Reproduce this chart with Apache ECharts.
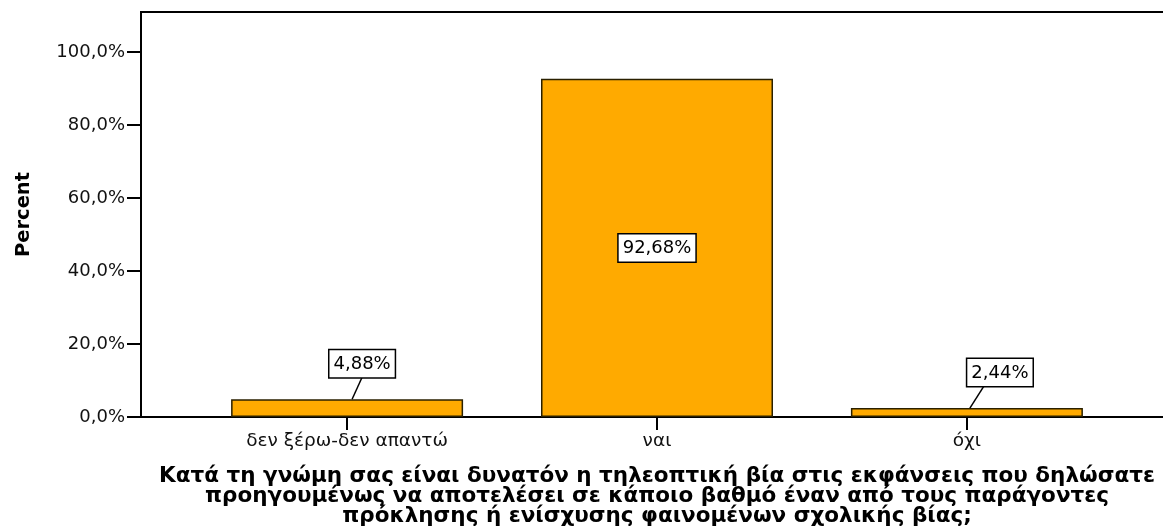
<!DOCTYPE html>
<html>
<head>
<meta charset="utf-8">
<script src="https://cdn.jsdelivr.net/npm/echarts@6/dist/echarts.min.js"></script>
<style>
  html, body { margin: 0; padding: 0; background: #fff; }
  #chart { width: 1163px; height: 528px; }
</style>
</head>
<body>
<div id="chart"></div>
<script>
// Answer categories and their shares (percent of respondents)
const categories = ['δεν ξέρω-δεν απαντώ', 'ναι', 'όχι'];
const percents = [4.88, 92.68, 2.44];
const yTicks = [0, 20, 40, 60, 80, 100];
const xTitle = 'Κατά τη γνώμη σας είναι δυνατόν η τηλεοπτική βία στις εκφάνσεις που δηλώσατε\n' +
  'προηγουμένως να αποτελέσει σε κάποιο βαθμό έναν από τους παράγοντες\n' +
  'πρόκλησης ή ενίσχυσης φαινομένων σχολικής βίας;';
const yTitle = 'Percent';

const fmtPct = v => v.toFixed(1).replace('.', ',') + '%';
const fmtLabel = v => v.toFixed(2).replace('.', ',') + '%';

// Callout geometry for the short bars, in pixels relative to the bar top:
// [leader start dx, leader end dx, leader end dy, box centre dx]
const callout = [[5, 15, -22, 15], null, [3, 17, -22, 33]];

const FONT = 'DejaVu Sans';

const chart = echarts.init(document.getElementById('chart'), null, { renderer: 'canvas' });

chart.setOption({
  animation: false,
  backgroundColor: '#fff',
  grid: {
    left: 141, right: -10, top: 12, bottom: 111,
    outerBoundsMode: 'none',
    containLabel: false,
    show: true, borderColor: '#000', borderWidth: 2, backgroundColor: '#fff'
  },
  xAxis: {
    type: 'value',
    min: -0.665, max: 2.665,
    name: xTitle,
    nameLocation: 'middle',
    nameGap: 49,
    nameTextStyle: {
      fontFamily: FONT, fontWeight: 'bold', fontSize: 21.5,
      lineHeight: 20, color: '#000', align: 'center'
    },
    axisLine: { show: false, onZero: false },
    splitLine: { show: false },
    axisTick: {
      show: true, customValues: [0, 1, 2], length: 13, inside: false,
      lineStyle: { color: '#000', width: 2 }
    },
    axisLabel: {
      customValues: [0, 1, 2],
      formatter: v => categories[Math.round(v)],
      fontFamily: FONT, fontSize: 18.5, color: '#111', margin: 15
    }
  },
  yAxis: {
    type: 'value',
    min: 0, max: 111,
    name: yTitle,
    nameLocation: 'middle',
    nameRotate: 90,
    nameGap: 107,
    nameTextStyle: { fontFamily: FONT, fontWeight: 'bold', fontSize: 19.5, color: '#000' },
    axisLine: { show: false, onZero: false },
    splitLine: { show: false },
    axisTick: {
      show: true, customValues: yTicks, length: 14,
      lineStyle: { color: '#000', width: 2 }
    },
    axisLabel: {
      customValues: yTicks,
      formatter: fmtPct,
      fontFamily: FONT, fontSize: 18, color: '#111', margin: 16
    }
  },
  series: [{
    type: 'bar',
    barWidth: 232,
    data: percents.map((p, i) => ({
      value: [i, p],
      label: { show: !callout[i] }
    })),
    itemStyle: { color: '#FFAA00', borderColor: '#2a2000', borderWidth: 1.5 },
    label: {
      position: 'inside',
      formatter: p => fmtLabel(p.value[1]),
      fontFamily: FONT, fontSize: 18, color: '#000',
      backgroundColor: '#fff', borderColor: '#000', borderWidth: 1.5,
      padding: [5, 4, 4, 4]
    }
  }, {
    // boxed value callouts with a leader line for the short bars
    type: 'custom',
    data: percents.map((p, i) => [i, p]),
    renderItem: (params, api) => {
      const c = callout[params.dataIndex];
      if (!c) return null;
      const v = api.value(1);
      const pt = api.coord([api.value(0), v]);
      return {
        type: 'group',
        children: [{
          type: 'line',
          shape: { x1: pt[0] + c[0], y1: pt[1], x2: pt[0] + c[1], y2: pt[1] + c[2] },
          style: { stroke: '#000', lineWidth: 1.5 }
        }, {
          type: 'text',
          x: pt[0] + c[3],
          y: pt[1] + c[2],
          style: {
            text: fmtLabel(v),
            font: '18px "' + FONT + '"',
            fill: '#000',
            align: 'center',
            verticalAlign: 'bottom',
            backgroundColor: '#fff',
            borderColor: '#000',
            borderWidth: 1.5,
            padding: [5, 4, 4, 4]
          }
        }]
      };
    },
    z: 5
  }]
});
</script>
</body>
</html>
